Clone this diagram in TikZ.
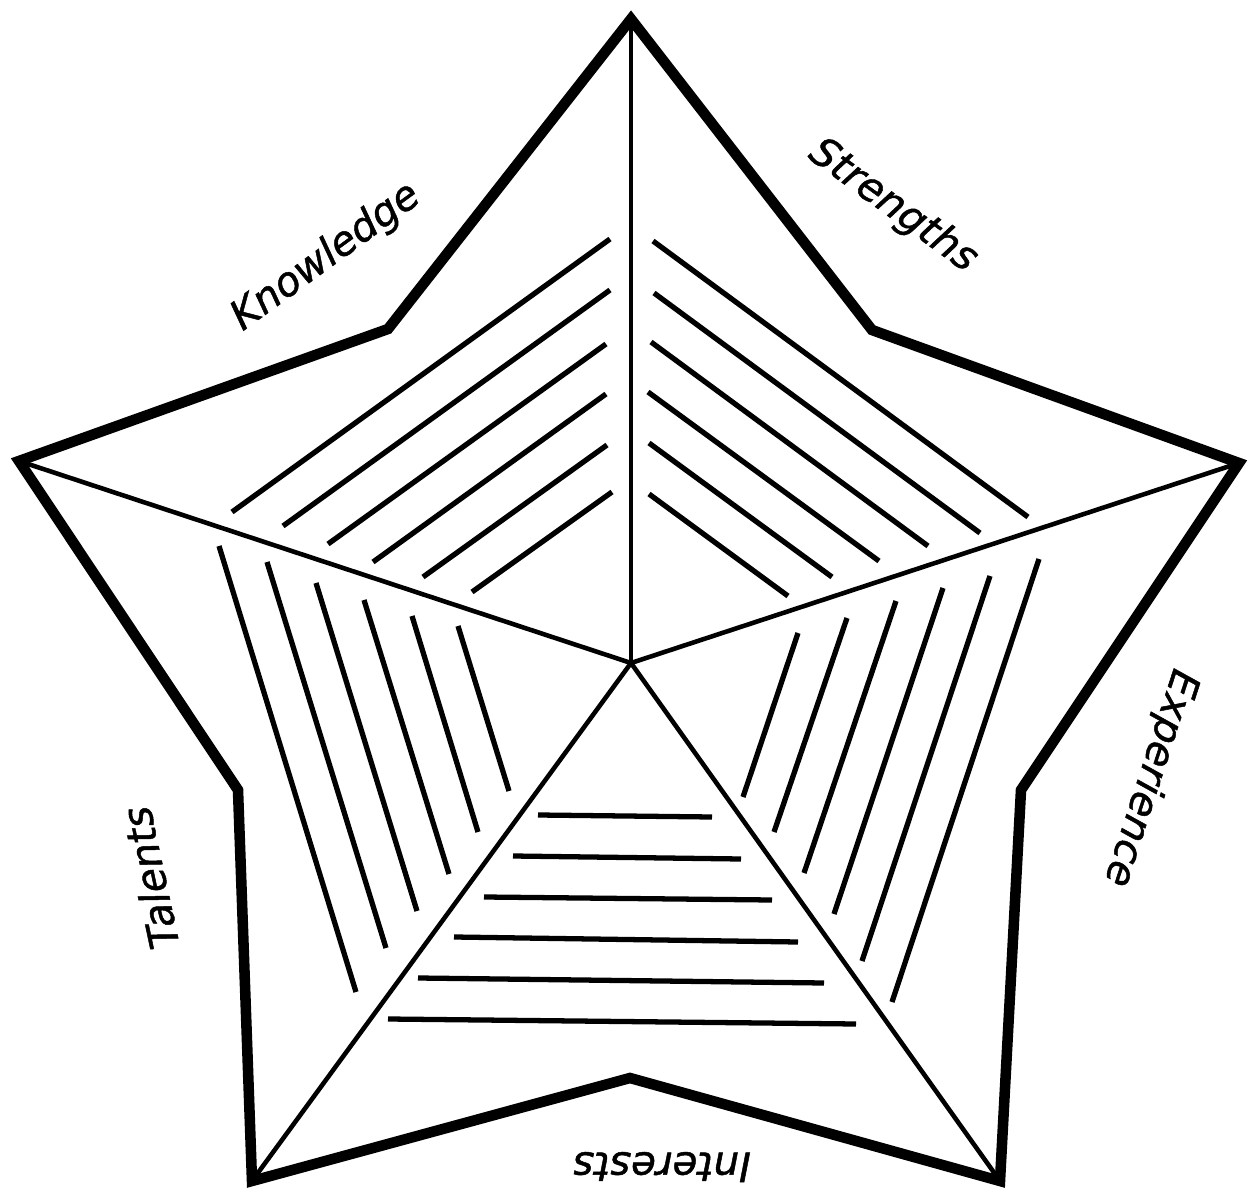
\documentclass[tikz,border=0pt]{standalone}
\usepackage{fontspec}
\setmainfont{DejaVu Sans}[ItalicFeatures={FakeBold=1.2}]

\tikzset{
  rim/.style={line width=3pt, line join=miter},
  spoke/.style={line width=1.3pt},
  hatch/.style={line width=1.5pt},
  armlabel/.style={font=\itshape\fontsize{11.5}{14}\selectfont, inner sep=0pt}
}

\begin{document}
\begin{tikzpicture}[x=0.01cm, y=-0.01cm]
  \useasboundingbox (0,0) rectangle (1251,1194);

  \coordinate (C) at (631,663);
  % tips
  \coordinate (Ttop) at (631,19);
  \coordinate (Tright) at (1239,463);
  \coordinate (Tbr) at (1000,1181);
  \coordinate (Tbl) at (252,1181);
  \coordinate (Tleft) at (19,461);
  % inner corners
  \coordinate (Itl) at (388,329);
  \coordinate (Itr) at (872,330);
  \coordinate (Ir) at (1021,790);
  \coordinate (Ib) at (630,1078);
  \coordinate (Il) at (238,790);

  \draw[rim] (Ttop) -- (Itr) -- (Tright) -- (Ir) -- (Tbr) -- (Ib)
      -- (Tbl) -- (Il) -- (Tleft) -- (Itl) -- cycle;

  \foreach \t in {Ttop,Tright,Tbr,Tbl,Tleft}
    \draw[spoke] (C) -- (\t);

  % Knowledge sector
  \foreach \xa/\ya/\xb/\yb in {232/512/610/239, 283/526/610/290,
      328/544/606/344, 373/562/606/394, 423/577/607/445, 472/592/612/492}
    \draw[hatch] (\xa,\ya) -- (\xb,\yb);
  % Strengths sector
  \foreach \xa/\ya/\xb/\yb in {653/241/1028/517, 654/293/980/533,
      651/342/928/546, 648/392/879/561, 649/443/832/577, 649/494/788/596}
    \draw[hatch] (\xa,\ya) -- (\xb,\yb);
  % Experience sector
  \foreach \xa/\ya/\xb/\yb in {798/633/743/797, 847/618/774/832,
      896/601/804/873, 943/588/834/914, 990/576/862/961, 1039/559/892/1002}
    \draw[hatch] (\xa,\ya) -- (\xb,\yb);
  % Interests sector
  \foreach \xa/\ya/\xb/\yb in {538/815/712/817, 513/856/741/859,
      484/897/772/900, 454/937/798/942, 418/978/824/983, 388/1019/856/1024}
    \draw[hatch] (\xa,\ya) -- (\xb,\yb);
  % Talents sector
  \foreach \xa/\ya/\xb/\yb in {219/546/356/992, 267/562/386/948,
      316/583/417/911, 364/600/449/874, 412/616/478/832, 458/626/509/791}
    \draw[hatch] (\xa,\ya) -- (\xb,\yb);

  \node[armlabel, rotate=36] (know) at (326,257) {Knowledge};
  \node[armlabel, rotate=-36] (stren) at (893,206) {Strengths};
  \node[armlabel, rotate=-108] (exper) at (1150,778) {Experience};
  \node[armlabel, rotate=180] (inter) at (662,1167) {Interests};
  \node[armlabel, rotate=102] (talent) at (150,878) {Talents};
\end{tikzpicture}
\end{document}
